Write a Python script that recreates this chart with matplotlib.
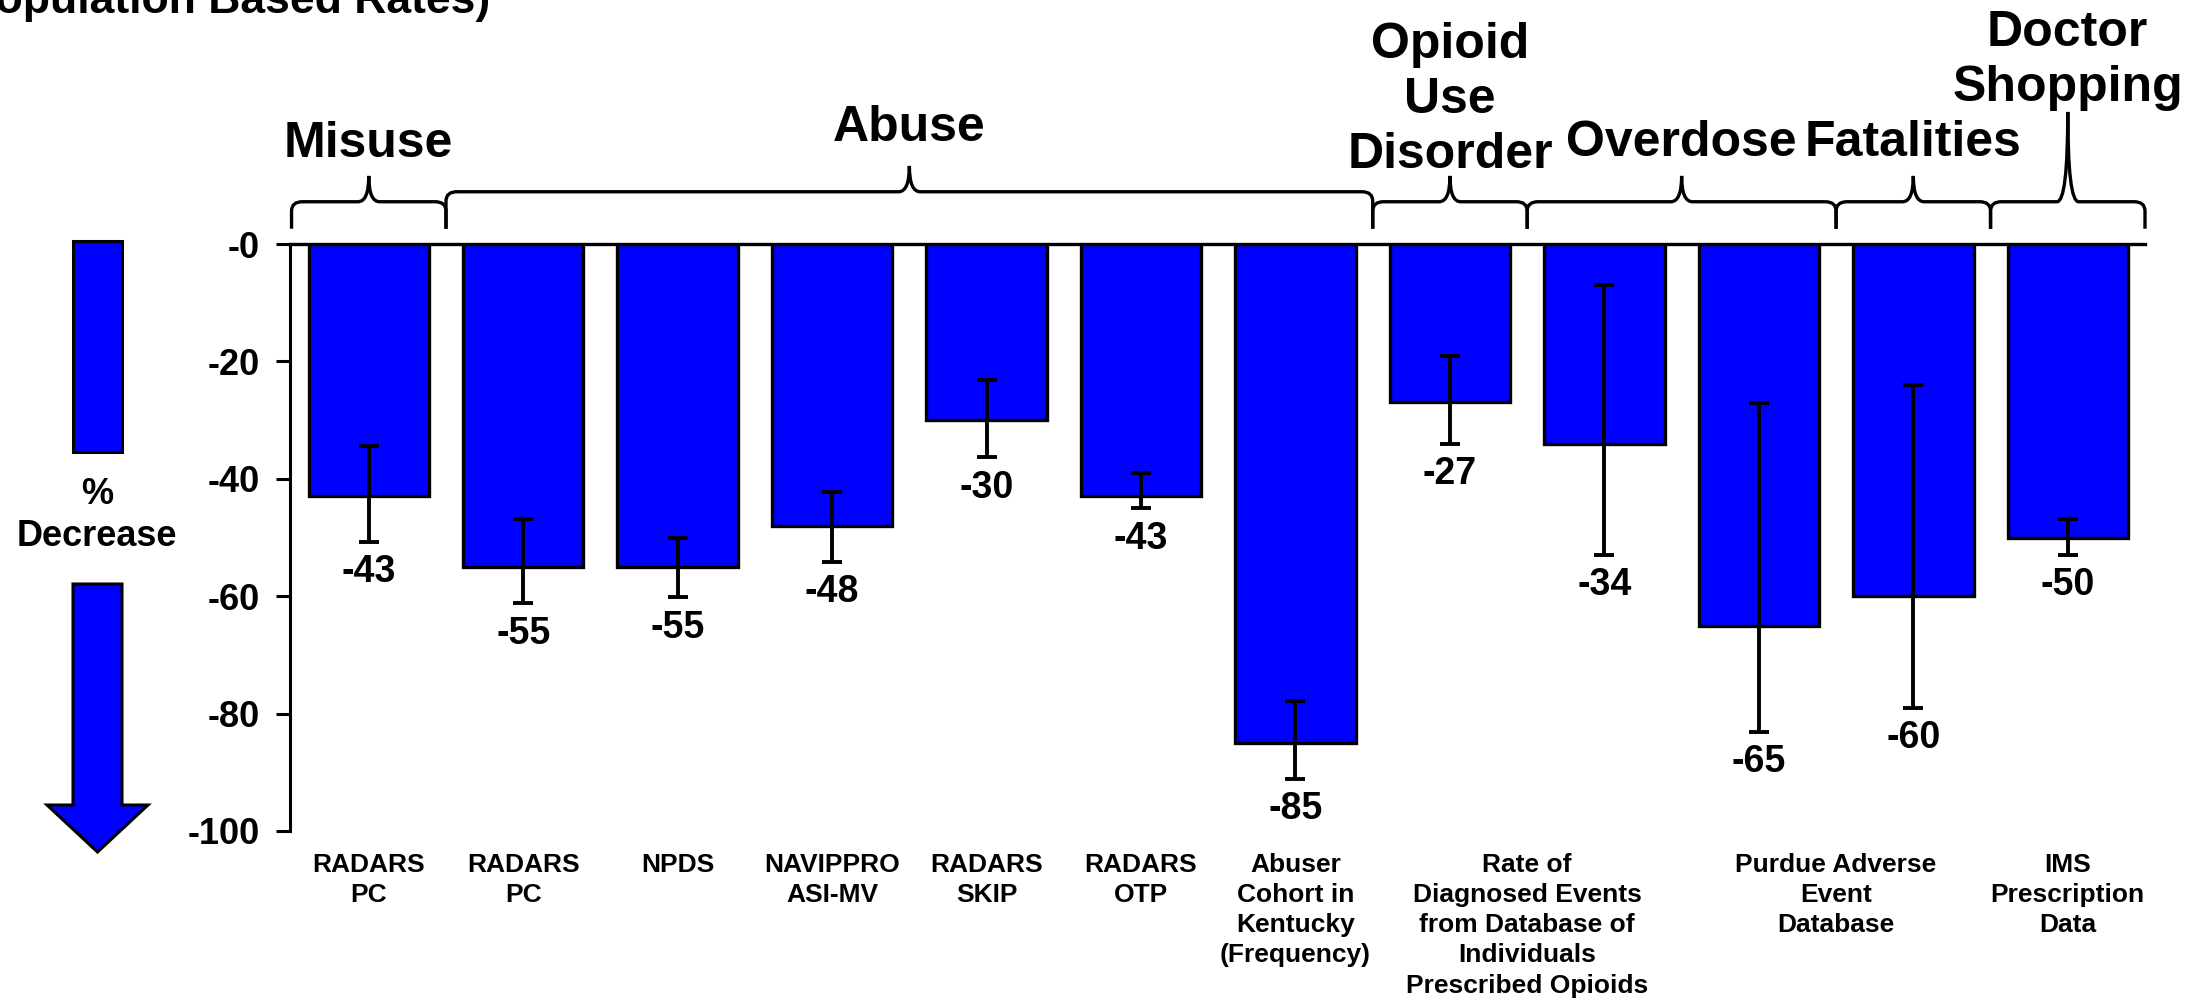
import matplotlib
matplotlib.use("Agg")
import numpy as np
import matplotlib.pyplot as plt
from matplotlib.path import Path
from matplotlib.patches import PathPatch, Rectangle, Polygon

# datos
valores = [-43, -55, -55, -48, -30, -43, -85, -27, -34, -65, -60, -50]
err_sup = [-34.4, -46.8, -50.1, -42.2, -23.1, -39.0, -77.9, -19.0, -7.0, -27.1, -24.1, -46.9]
err_inf = [-50.7, -61.2, -60.2, -54.1, -36.3, -45.0, -91.1, -34.0, -52.9, -83.1, -79.0, -52.9]

etiquetas = ["RADARS\nPC", "RADARS\nPC", "NPDS", "NAVIPPRO\nASI-MV", "RADARS\nSKIP",
             "RADARS\nOTP", "Abuser\nCohort in\nKentucky\n(Frequency)",
             "Rate of\nDiagnosed Events\nfrom Database of\nIndividuals\nPrescribed Opioids",
             "Purdue Adverse\nEvent\nDatabase", "IMS\nPrescription\nData"]
barras_etiqueta = [[0], [1], [2], [3], [4], [5], [6], [7, 8], [9, 10], [11]]

grupos = ["Misuse", "Abuse", "Opioid\nUse\nDisorder", "Overdose", "Fatalities", "Doctor\nShopping"]
barras_grupo = [(0, 0), (1, 6), (7, 7), (8, 9), (10, 10), (11, 11)]

titulo = "(Population Based Rates)"
yticks = [0, -20, -40, -60, -80, -100]
ytick_labels = ["-0", "-20", "-40", "-60", "-80", "-100"]

azul = "#0000FF"
fuente = ["Liberation Sans", "DejaVu Sans"]

W, H = 2198, 1000
fig = plt.figure(figsize=(W / 100, H / 100), dpi=100)
ax = fig.add_axes([290 / W, 1 - 831 / H, (2145 - 290) / W, (831 - 244) / H])

x = np.arange(len(valores))
v = np.array(valores)
yerr = [v - np.array(err_inf), np.array(err_sup) - v]
ax.bar(x, v, width=0.78, color=azul, edgecolor="black", linewidth=2.4, zorder=2)
ax.errorbar(x, v, yerr=yerr, fmt="none", ecolor="black", elinewidth=2.8,
            capsize=7, capthick=2.8, zorder=3)

for i in range(len(valores)):
    ax.annotate(str(valores[i]), xy=(i, err_inf[i]), xytext=(0, -9),
                textcoords="offset points", ha="center", va="top",
                fontsize=27, fontweight="bold", family=fuente)

ax.set_xlim(-0.51, 11.5)
ax.set_ylim(-100, 0)
ax.set_yticks(yticks)
ax.set_yticklabels(ytick_labels, fontsize=26, fontweight="bold", family=fuente)
ax.tick_params(axis="y", length=10, width=2.2, pad=12, direction="out")

pos = [np.mean(b) for b in barras_etiqueta]
ax.set_xticks(pos)
ax.set_xticklabels(etiquetas, fontsize=19, fontweight="bold", family=fuente,
                   linespacing=1.32)
ax.tick_params(axis="x", length=0, pad=16)

ax.spines["right"].set_visible(False)
ax.spines["bottom"].set_visible(False)
ax.spines["left"].set_linewidth(2.2)
ax.spines["top"].set_linewidth(2.4)


# llaves sobre los grupos
def llave(x0, x1, xm, yh, yfin, ypico):
    rx, ry = 0.07, 1.6
    verts = [(x0, yfin), (x0, yh - ry), (x0, yh), (x0 + rx, yh),
             (xm - rx, yh), (xm, yh), (xm, ypico),
             (xm, yh), (xm + rx, yh),
             (x1 - rx, yh), (x1, yh), (x1, yh - ry), (x1, yfin)]
    codes = [Path.MOVETO, Path.LINETO, Path.CURVE3, Path.CURVE3,
             Path.LINETO, Path.CURVE3, Path.CURVE3,
             Path.CURVE3, Path.CURVE3,
             Path.LINETO, Path.CURVE3, Path.CURVE3, Path.LINETO]
    ax.add_patch(PathPatch(Path(verts, codes), fill=False, lw=2.4,
                           edgecolor="black", clip_on=False, zorder=4))


alto_llave = [7.2, 8.9, 7.2, 7.2, 7.2, 7.2]
alto_pico = [11.6, 13.3, 11.6, 11.6, 11.6, 22.5]
alto_texto = [13.1, 15.8, 11.2, 13.3, 13.3, 22.7]
for k in range(len(grupos)):
    a, b = barras_grupo[k]
    xm = (a + b) / 2
    llave(a - 0.5, b + 0.5, xm, alto_llave[k], 2.6, alto_pico[k])
    ax.text(xm, alto_texto[k], grupos[k], ha="center", va="bottom",
            fontsize=36, fontweight="bold", family=fuente, linespacing=1.25,
            clip_on=False)


# flecha de "% Decrease"
def px(xp, yp):
    return (xp / W, 1 - yp / H)


fig.add_artist(Rectangle(px(73, 452), 49 / W, 211 / H, facecolor=azul,
                         edgecolor="black", linewidth=2.2, transform=fig.transFigure))
flecha = [px(73, 584), px(122, 584), px(122, 805), px(148, 805), px(97.5, 852),
          px(47, 805), px(73, 805)]
fig.add_artist(Polygon(flecha, closed=True, facecolor=azul, edgecolor="black",
                       linewidth=2.2, transform=fig.transFigure))
fig.text(97 / W, 1 - 495 / H, "%", ha="center", va="center", fontsize=26,
         fontweight="bold", family=fuente)
fig.text(97 / W, 1 - 537 / H, "Decrease", ha="center", va="center", fontsize=26,
         fontweight="bold", family=fuente)

fig.text(490 / W, 1 - 13 / H, titulo, ha="right", va="baseline", fontsize=32,
         fontweight="bold", family=fuente)

fig.savefig("out.png", dpi=100)
